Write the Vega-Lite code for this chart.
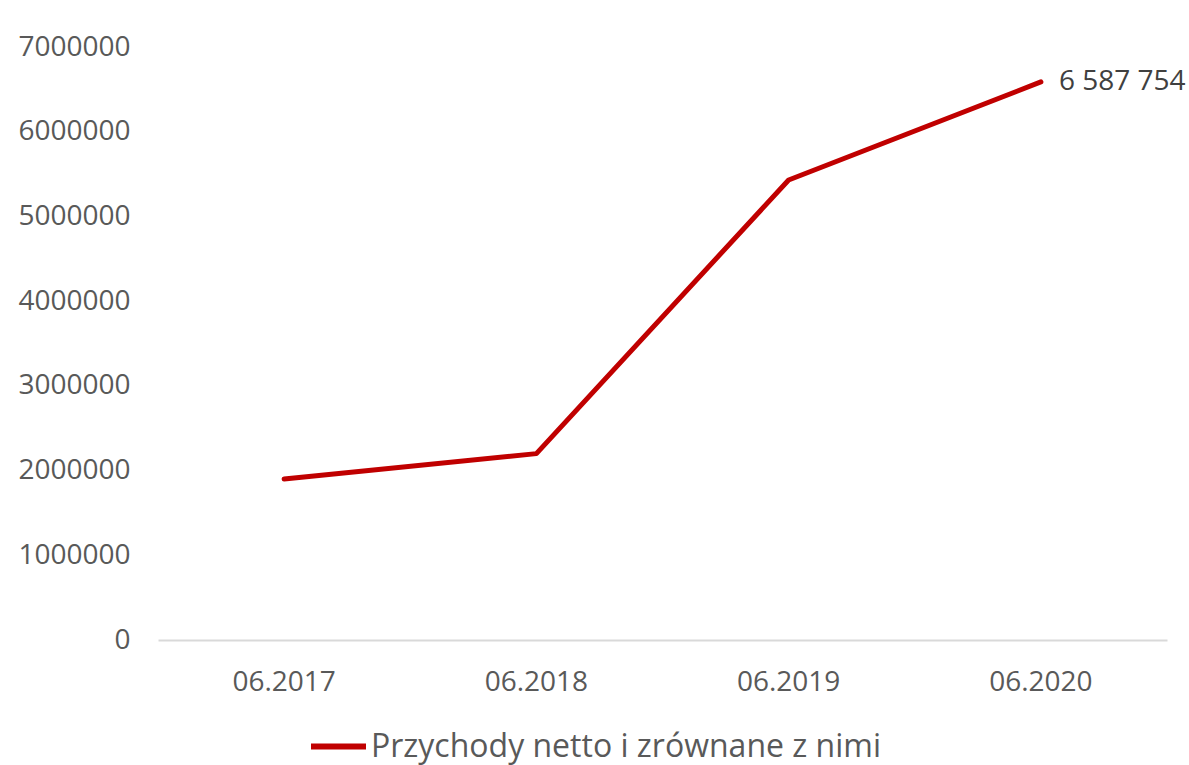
{
  "$schema": "https://vega.github.io/schema/vega-lite/v6.json",
  "autosize": {"type": "none"},
  "padding": {"left": 158, "top": 47, "right": 22, "bottom": 125},
  "width": 1009,
  "height": 593,
  "background": "white",
  "config": {
    "view": {"stroke": null},
    "font": "Open Sans"
  },
  "data": {
    "values": [
      {"okres": "06.2017", "wartosc": 1900000, "seria": "Przychody netto i zrównane z nimi", "etykieta": ""},
      {"okres": "06.2018", "wartosc": 2200000, "seria": "Przychody netto i zrównane z nimi", "etykieta": ""},
      {"okres": "06.2019", "wartosc": 5430000, "seria": "Przychody netto i zrównane z nimi", "etykieta": ""},
      {"okres": "06.2020", "wartosc": 6587754, "seria": "Przychody netto i zrównane z nimi", "etykieta": "6 587 754"}
    ]
  },
  "encoding": {
    "x": {
      "field": "okres", "type": "ordinal",
      "scale": {"type": "band", "paddingInner": 0, "paddingOuter": 0},
      "axis": {
        "title": null, "labelAngle": 0, "ticks": false,
        "domainColor": "#d9d9d9", "domainWidth": 2,
        "labelFontSize": 28, "labelColor": "#595959", "labelPadding": 28
      }
    },
    "y": {
      "field": "wartosc", "type": "quantitative",
      "scale": {"domain": [0, 7000000]},
      "axis": {
        "title": null, "grid": false, "domain": false, "ticks": false,
        "values": [0, 1000000, 2000000, 3000000, 4000000, 5000000, 6000000, 7000000],
        "format": "d",
        "labelFontSize": 28, "labelColor": "#595959", "labelPadding": 28
      }
    }
  },
  "layer": [
    {
      "mark": {"type": "line", "strokeWidth": 5, "strokeCap": "round", "strokeJoin": "round"},
      "encoding": {
        "color": {
          "field": "seria", "type": "nominal",
          "scale": {"range": ["#c00000"]},
          "legend": {
            "title": null, "orient": "none", "legendX": 150, "legendY": 669,
            "symbolType": "stroke", "symbolSize": 3025, "symbolStrokeWidth": 6,
            "labelFontSize": 32, "labelColor": "#595959", "labelOffset": 2,
            "labelLimit": 0, "padding": 0
          }
        }
      }
    },
    {
      "mark": {"type": "text", "align": "left", "baseline": "middle", "dx": 18, "fontSize": 28, "color": "#404040"},
      "encoding": {"text": {"field": "etykieta"}}
    }
  ]
}
